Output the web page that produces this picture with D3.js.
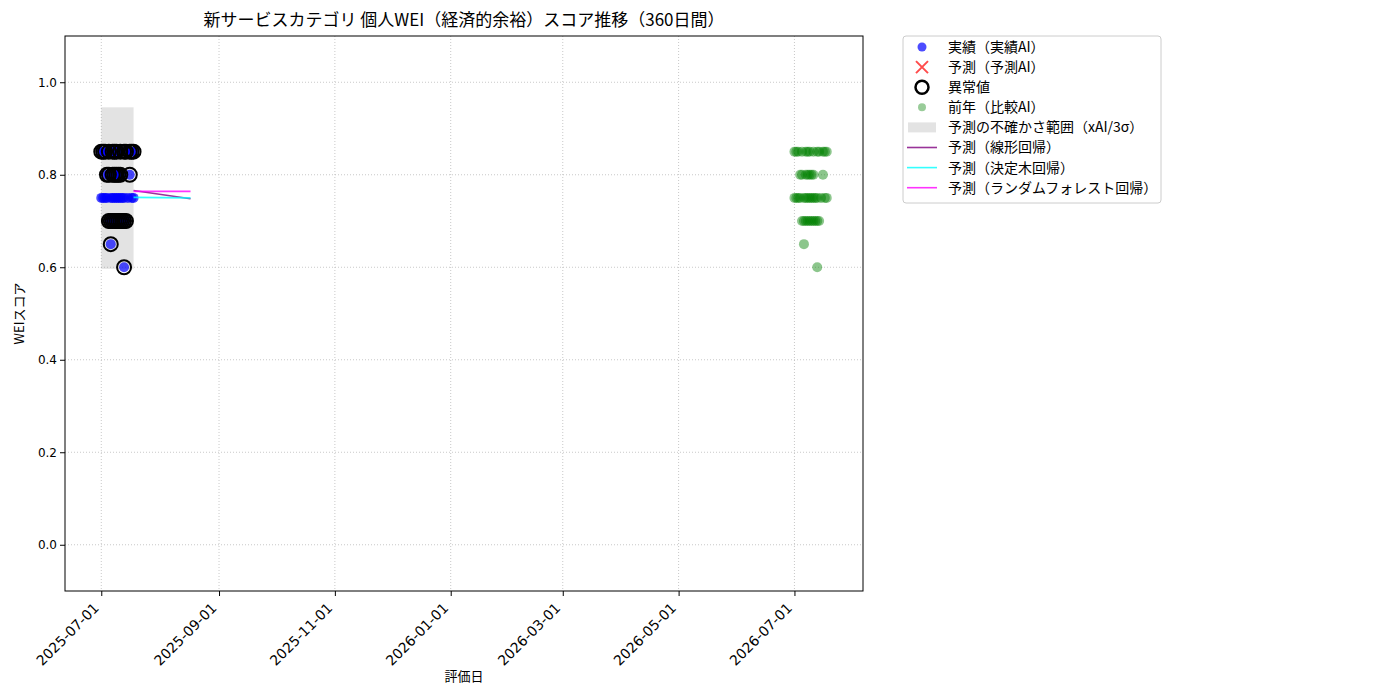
<!DOCTYPE html>
<html>
<head>
<meta charset="utf-8">
<script src="https://cdn.jsdelivr.net/npm/d3@7"></script>
<style>
  body { margin: 0; background: #fff; }
  text { font-family: "Noto Sans CJK JP", "Noto Sans", sans-serif; fill: #000; }
</style>
</head>
<body>
<svg id="chart" width="1400" height="700"></svg>
<script>
// --- data ---
const actualDates = [
  '2025-07-01','2025-07-02','2025-07-03','2025-07-05','2025-07-07','2025-07-08','2025-07-09','2025-07-11','2025-07-13','2025-07-14','2025-07-16','2025-07-17','2025-07-18',
  '2025-07-04','2025-07-05','2025-07-07','2025-07-08','2025-07-09','2025-07-10','2025-07-11','2025-07-16',
  '2025-07-01','2025-07-02','2025-07-03','2025-07-04','2025-07-06','2025-07-07','2025-07-08','2025-07-09','2025-07-10','2025-07-11','2025-07-12','2025-07-13','2025-07-15','2025-07-17','2025-07-18',
  '2025-07-05','2025-07-06','2025-07-07','2025-07-08','2025-07-09','2025-07-10','2025-07-11','2025-07-12','2025-07-13','2025-07-14',
  '2025-07-06',
  '2025-07-13'
];
const actualScores = [
  0.85,0.85,0.85,0.85,0.85,0.85,0.85,0.85,0.85,0.85,0.85,0.85,0.85,
  0.80,0.80,0.80,0.80,0.80,0.80,0.80,0.80,
  0.75,0.75,0.75,0.75,0.75,0.75,0.75,0.75,0.75,0.75,0.75,0.75,0.75,0.75,0.75,
  0.70,0.70,0.70,0.70,0.70,0.70,0.70,0.70,0.70,0.70,
  0.65,
  0.60
];
// anomalies: every score away from 0.75
const anomalyFlags = actualScores.map(v => v !== 0.75);

const prevDates = [
  '2026-07-01','2026-07-02','2026-07-03','2026-07-05','2026-07-07','2026-07-08','2026-07-09','2026-07-11','2026-07-13','2026-07-14','2026-07-16','2026-07-17','2026-07-18',
  '2026-07-04','2026-07-05','2026-07-07','2026-07-08','2026-07-09','2026-07-10','2026-07-11','2026-07-16',
  '2026-07-01','2026-07-02','2026-07-03','2026-07-04','2026-07-06','2026-07-07','2026-07-08','2026-07-09','2026-07-10','2026-07-11','2026-07-12','2026-07-13','2026-07-15','2026-07-17','2026-07-18',
  '2026-07-05','2026-07-06','2026-07-07','2026-07-08','2026-07-09','2026-07-10','2026-07-11','2026-07-12','2026-07-13','2026-07-14',
  '2026-07-06',
  '2026-07-13'
];
const prevScores = actualScores.slice();

const bandDates = ['2025-07-01', '2025-07-18'];
const bandLow = 0.5965;
const bandHigh = 0.9458;

const predDates = ['2025-07-18', '2025-08-17'];
const predLinear = [0.766, 0.748];
const predTree = [0.751, 0.750];
const predForest = [0.764, 0.764];

const xTicks = ['2025-07-01','2025-09-01','2025-11-01','2026-01-01','2026-03-01','2026-05-01','2026-07-01'];
const yTicks = [0.0, 0.2, 0.4, 0.6, 0.8, 1.0];

const legendLabels = [
  '実績（実績AI）', '予測（予測AI）', '異常値', '前年（比較AI）',
  '予測の不確かさ範囲（xAI/3σ）', '予測（線形回帰）', '予測（決定木回帰）', '予測（ランダムフォレスト回帰）'
];

// --- chart ---
const parse = d3.timeParse('%Y-%m-%d');
const margin = {top: 36, right: 537, bottom: 109, left: 65};
const width = 1400, height = 700;
const iw = width - margin.left - margin.right;
const ih = height - margin.top - margin.bottom;

const svg = d3.select('#chart');
const g = svg.append('g').attr('transform', `translate(${margin.left},${margin.top})`);

const allDates = actualDates.concat(prevDates, predDates).map(parse);
const [dmin, dmax] = d3.extent(allDates);
const pad = (dmax - dmin) * 0.05;
const x = d3.scaleTime().domain([new Date(+dmin - pad), new Date(+dmax + pad)]).range([0, iw]);
const y = d3.scaleLinear().domain([-0.1, 1.1]).range([ih, 0]);

// grid
g.append('g').selectAll('line').data(xTicks).join('line')
  .attr('x1', d => x(parse(d))).attr('x2', d => x(parse(d)))
  .attr('y1', 0).attr('y2', ih)
  .attr('stroke', '#b0b0b0').attr('stroke-opacity', 0.7).attr('stroke-dasharray', '1,2');
g.append('g').selectAll('line').data(yTicks).join('line')
  .attr('x1', 0).attr('x2', iw)
  .attr('y1', d => y(d)).attr('y2', d => y(d))
  .attr('stroke', '#b0b0b0').attr('stroke-opacity', 0.7).attr('stroke-dasharray', '1,2');

// uncertainty band
g.append('rect')
  .attr('x', x(parse(bandDates[0])))
  .attr('width', x(parse(bandDates[1])) - x(parse(bandDates[0])))
  .attr('y', y(bandHigh))
  .attr('height', y(bandLow) - y(bandHigh))
  .attr('fill', 'gray').attr('fill-opacity', 0.22);

// actual
g.append('g').selectAll('circle').data(actualDates).join('circle')
  .attr('cx', d => x(parse(d)))
  .attr('cy', (d, i) => y(actualScores[i]))
  .attr('r', 5)
  .attr('fill', 'blue').attr('fill-opacity', 0.7);

// anomalies
const anomDates = actualDates.filter((d, i) => anomalyFlags[i]);
const anomScores = actualScores.filter((v, i) => anomalyFlags[i]);
g.append('g').selectAll('circle').data(anomDates).join('circle')
  .attr('cx', d => x(parse(d)))
  .attr('cy', (d, i) => y(anomScores[i]))
  .attr('r', 7)
  .attr('fill', 'none').attr('stroke', 'black').attr('stroke-width', 2);

// predictions
const line = d3.line().x(d => x(parse(d[0]))).y(d => y(d[1]));
const preds = [
  {vals: predLinear, color: 'purple'},
  {vals: predTree, color: 'cyan'},
  {vals: predForest, color: 'magenta'}
];
preds.forEach(p => {
  g.append('path')
    .datum(predDates.map((d, i) => [d, p.vals[i]]))
    .attr('d', line)
    .attr('fill', 'none').attr('stroke', p.color)
    .attr('stroke-opacity', 0.8).attr('stroke-width', 1.6);
});

// previous year
g.append('g').selectAll('circle').data(prevDates).join('circle')
  .attr('cx', d => x(parse(d)))
  .attr('cy', (d, i) => y(prevScores[i]))
  .attr('r', 5)
  .attr('fill', 'green').attr('fill-opacity', 0.45);

// axes
const xaxis = d3.axisBottom(x).tickValues(xTicks.map(parse))
  .tickFormat(d3.timeFormat('%Y-%m-%d')).tickSize(5).tickSizeOuter(0);
const xg = g.append('g').attr('transform', `translate(0,${ih})`).call(xaxis);
xg.select('.domain').remove();
xg.selectAll('text')
  .style('font-family', '"DejaVu Sans", sans-serif')
  .attr('font-size', 14)
  .attr('text-anchor', 'end')
  .attr('dy', 0).attr('y', 0)
  .attr('transform', 'translate(-2,18) rotate(-45)');

const yaxis = d3.axisLeft(y).tickValues(yTicks).tickFormat(d3.format('.1f')).tickSize(5).tickSizeOuter(0);
const yg = g.append('g').call(yaxis);
yg.select('.domain').remove();
yg.selectAll('text').style('font-family', '"DejaVu Sans", sans-serif').attr('font-size', 12).attr('x', -8);

g.append('rect').attr('width', iw).attr('height', ih)
  .attr('fill', 'none').attr('stroke', 'black').attr('stroke-width', 1);

// labels
svg.append('text').attr('x', margin.left + iw / 2).attr('y', 26)
  .attr('text-anchor', 'middle').attr('font-size', 17)
  .text('新サービスカテゴリ 個人WEI（経済的余裕）スコア推移（360日間）');
svg.append('text').attr('x', margin.left + iw / 2).attr('y', 681)
  .attr('text-anchor', 'middle').attr('font-size', 13).text('評価日');
svg.append('text').attr('transform', `translate(24,${margin.top + ih / 2}) rotate(-90)`)
  .attr('text-anchor', 'middle').attr('font-size', 13).text('WEIスコア');

// legend
const lg = svg.append('g').attr('transform', 'translate(903,36)');
lg.append('rect').attr('width', 258).attr('height', 167).attr('rx', 3)
  .attr('fill', 'white').attr('stroke', '#ccc');
const rowY = i => 11 + i * 20.1;
legendLabels.forEach((t, i) => {
  lg.append('text').attr('x', 45).attr('y', rowY(i)).attr('dy', '0.35em')
    .attr('font-size', 14).text(t);
});
lg.append('circle').attr('cx', 19).attr('cy', rowY(0)).attr('r', 4.5).attr('fill', 'blue').attr('fill-opacity', 0.7);
const xs = 6;
lg.append('path').attr('d', `M${19 - xs},${rowY(1) - xs}L${19 + xs},${rowY(1) + xs}M${19 - xs},${rowY(1) + xs}L${19 + xs},${rowY(1) - xs}`)
  .attr('stroke', 'red').attr('stroke-opacity', 0.7).attr('stroke-width', 2);
lg.append('circle').attr('cx', 19).attr('cy', rowY(2)).attr('r', 6.5).attr('fill', 'none').attr('stroke', 'black').attr('stroke-width', 2.5);
lg.append('circle').attr('cx', 19).attr('cy', rowY(3)).attr('r', 4).attr('fill', 'green').attr('fill-opacity', 0.4);
lg.append('rect').attr('x', 5).attr('y', rowY(4) - 5).attr('width', 28).attr('height', 10).attr('fill', 'gray').attr('fill-opacity', 0.22);
['purple', 'cyan', 'magenta'].forEach((c, k) => {
  lg.append('line').attr('x1', 4).attr('x2', 34).attr('y1', rowY(5 + k)).attr('y2', rowY(5 + k))
    .attr('stroke', c).attr('stroke-opacity', 0.8).attr('stroke-width', 1.6);
});
</script>
</body>
</html>
